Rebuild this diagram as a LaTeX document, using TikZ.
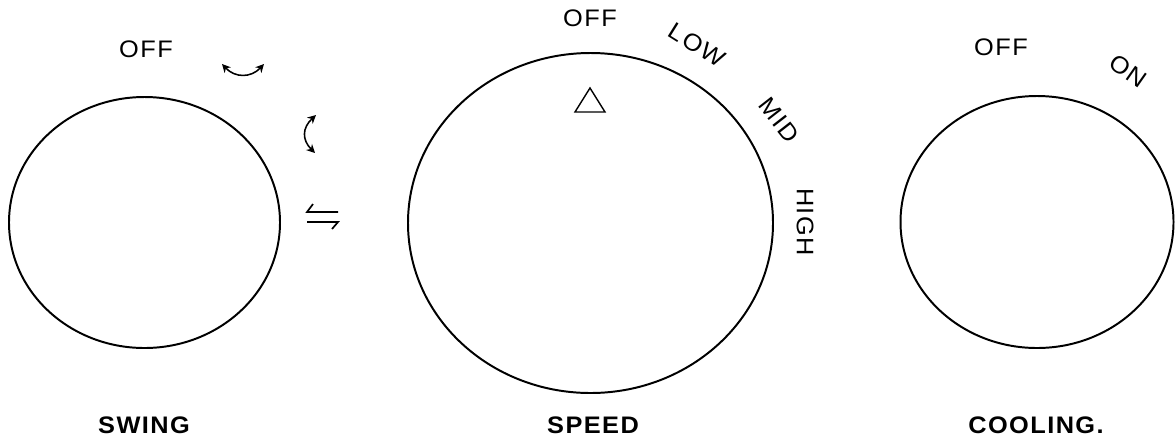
\documentclass[tikz,border=0pt]{standalone}
\usepackage{fontspec}
\setmainfont{Liberation Sans}
\newfontfamily\dialfont[FakeStretch=1.06,LetterSpace=6]{Liberation Sans}
\usetikzlibrary{arrows.meta}

\begin{document}
\begin{tikzpicture}[x=0.025cm,y=-0.025cm,
  knob/.style={line width=1.4pt},
  lbl/.style={font=\dialfont\fontsize{17}{20}\selectfont, inner sep=0pt},
  title/.style={font=\dialfont\bfseries\fontsize{17}{20}\selectfont, inner sep=0pt},
  swingarr/.style={line width=1.1pt, {Stealth[length=6pt,width=6pt]}-{Stealth[length=6pt,width=6pt]}}]
\useasboundingbox (0,0) rectangle (1175,443);
% the three knobs
\coordinate (swing) at (144.5,222.5); \coordinate (speed) at (590.5,223); \coordinate (cool) at (1037,222);
\draw[knob] (swing) ellipse [x radius=135.5, y radius=125.5];
\draw[knob] (speed) ellipse [x radius=182.5, y radius=170];
\draw[knob] (cool) ellipse [x radius=136.5, y radius=126];
\draw[line width=1pt] (590,88) -- (575,112) -- (605,112) -- cycle;
% swing settings
\node[lbl] (swingoff) at (146,49) {OFF};
\draw[swingarr] (222,64) .. controls (235,78) and (251,78) .. (264,64);
\draw[swingarr] (316,115) .. controls (302,128) and (302,140) .. (315,153);
\draw[line width=1.2pt] (313,204) -- (307,212) -- (338,212);
\draw[line width=1.2pt] (307,222) -- (338,222) -- (332,229);
% speed settings
\node[lbl] (speedoff) at (590,18) {OFF};
\node[lbl,rotate=-32] (low) at (697,45) {LOW};
\node[lbl,rotate=-52] (mid) at (779,120) {MID};
\node[lbl,rotate=-90] (high) at (805,222) {HIGH};
% cooling settings
\node[lbl] (cooloff) at (1001,47) {OFF};
\node[lbl,rotate=-35] (on) at (1128,71) {ON};
% names
\node[title] (swingname) at (144,425) {SWING};
\node[title] (speedname) at (593,425) {SPEED};
\node[title] (coolname) at (1036,425) {COOLING.};
\end{tikzpicture}
\end{document}
